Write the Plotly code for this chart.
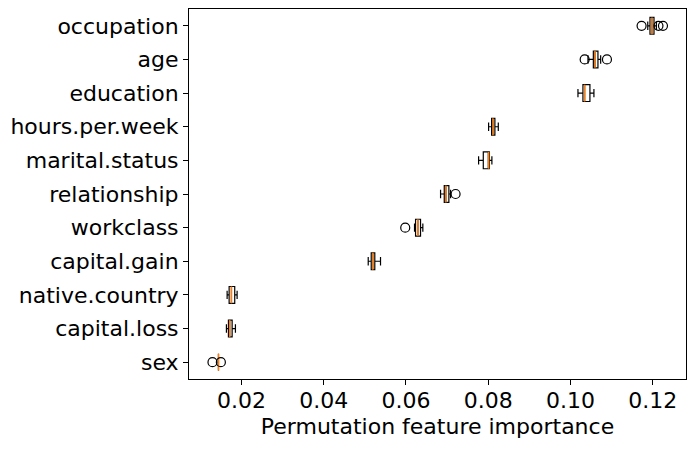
import plotly.graph_objects as go

features = ["occupation", "age", "education", "hours.per.week", "marital.status",
            "relationship", "workclass", "capital.gain", "native.country",
            "capital.loss", "sex"]
lower_whisker = [0.1188, 0.10426, 0.10183, 0.0801, 0.07767, 0.06842, 0.06209, 0.05083, 0.01652, 0.01635, 0.01442]
q1_vals = [0.11934, 0.10557, 0.10304, 0.08083, 0.07881, 0.06932, 0.06234, 0.05156, 0.01701, 0.01684, 0.01442]
median_vals = [0.11983, 0.10596, 0.10345, 0.08115, 0.0801, 0.06971, 0.0629, 0.05195, 0.01757, 0.01715, 0.01442]
q3_vals = [0.12032, 0.10669, 0.10474, 0.08163, 0.08027, 0.07044, 0.06355, 0.05243, 0.01837, 0.01774, 0.01442]
upper_whisker = [0.1209, 0.10735, 0.10571, 0.08246, 0.0809, 0.07085, 0.06411, 0.05382, 0.01895, 0.01854, 0.01442]
outliers = {
    "occupation": [0.1173, 0.1214, 0.1225],
    "age": [0.10346, 0.10888],
    "relationship": [0.07207],
    "workclass": [0.05983],
    "sex": [0.01296, 0.0150],
}
tick_vals = [0.02, 0.04, 0.06, 0.08, 0.10, 0.12]
tick_text = ["0.02", "0.04", "0.06", "0.08", "0.10", "0.12"]
x_title = "Permutation feature importance"

n = len(features)
positions = [n - 1 - i for i in range(n)]
box_w = 0.5

fig = go.Figure()
fig.add_trace(go.Box(
    orientation="h",
    y=positions,
    q1=q1_vals, median=median_vals, q3=q3_vals,
    lowerfence=lower_whisker, upperfence=upper_whisker,
    width=box_w, whiskerwidth=0.5,
    line=dict(color="black", width=1.2),
    fillcolor="rgba(0,0,0,0)",
    boxpoints=False, showlegend=False, hoverinfo="skip",
))

# orange medians
mx, my = [], []
for p, m in zip(positions, median_vals):
    mx += [m, m, None]
    my += [p - box_w / 2, p + box_w / 2, None]
fig.add_trace(go.Scatter(x=mx, y=my, mode="lines",
                         line=dict(color="#ff7f0e", width=1.5),
                         showlegend=False, hoverinfo="skip"))

# outliers
ox, oy = [], []
for f, vals in outliers.items():
    p = positions[features.index(f)]
    for v in vals:
        ox.append(v)
        oy.append(p)
fig.add_trace(go.Scatter(x=ox, y=oy, mode="markers",
                         marker=dict(symbol="circle-open", size=9,
                                     color="black", line=dict(width=1.2)),
                         showlegend=False, hoverinfo="skip"))

font_family = "DejaVu Sans"
fs = 22
fig.update_layout(
    width=695, height=450,
    margin=dict(l=189, r=9, t=9, b=71),
    paper_bgcolor="white", plot_bgcolor="white",
    font=dict(family=font_family, size=fs, color="black"),
    xaxis=dict(
        range=[0.007251, 0.1281],
        tickvals=tick_vals, ticktext=tick_text,
        ticks="outside", ticklen=5, tickwidth=1, tickcolor="black",
        showline=True, linecolor="black", linewidth=1, mirror=True,
        showgrid=False, zeroline=False, automargin=False,
        ticklabelstandoff=-3,
        title=dict(text=x_title, font=dict(size=fs), standoff=6),
        tickfont=dict(size=fs),
    ),
    yaxis=dict(
        range=[-0.5, n - 0.5],
        tickvals=positions, ticktext=features,
        ticks="outside", ticklen=5, tickwidth=1, tickcolor="black",
        showline=True, linecolor="black", linewidth=1, mirror=True,
        showgrid=False, zeroline=False, automargin=False,
        tickfont=dict(size=fs),
    ),
)

fig.write_html("out.html", config={"displayModeBar": False},
               post_script="document.body.style.margin='0';")
